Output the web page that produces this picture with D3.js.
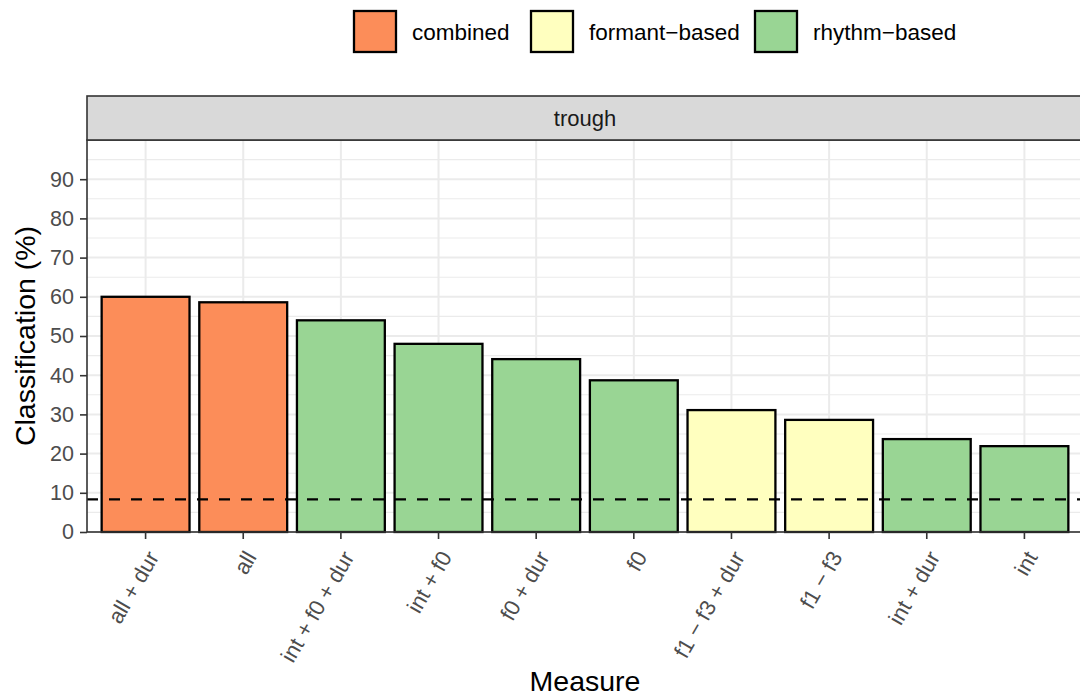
<!DOCTYPE html>
<html>
<head>
<meta charset="utf-8">
<script src="https://cdn.jsdelivr.net/npm/d3@7"></script>
<style>
  html, body { margin: 0; padding: 0; background: #fff; }
  svg { display: block; font-family: "Liberation Sans", Arial, sans-serif; }
</style>
</head>
<body>
<svg id="chart" width="1080" height="697"></svg>
<script>
// Classification accuracy per measure, trough position
const measures = ["all + dur", "all", "int + f0 + dur", "int + f0", "f0 + dur", "f0",
                  "f1 \u2212 f3 + dur", "f1 \u2212 f3", "int + dur", "int"];
const accuracy = [60.0, 58.6, 54.0, 48.0, 44.1, 38.7, 31.1, 28.6, 23.7, 21.9];
const measureType = ["combined", "combined", "rhythm", "rhythm", "rhythm", "rhythm",
                     "formant", "formant", "rhythm", "rhythm"];
const typeKeys = ["combined", "formant", "rhythm"];
const typeLabels = ["combined", "formant\u2212based", "rhythm\u2212based"];
const typeColors = ["#FC8D59", "#FFFFBF", "#99D594"];
const chanceLevel = 8.33;
const yTicks = [0, 10, 20, 30, 40, 50, 60, 70, 80, 90];
const yMinor = [5, 15, 25, 35, 45, 55, 65, 75, 85, 95];
const facetLabel = "trough";

const svg = d3.select("#chart");
const panel = { left: 87, right: 1083, top: 140, bottom: 532 };
const strip = { top: 96, bottom: 140 };

const x = d3.scaleBand()
  .domain(measures)
  .range([panel.left, panel.right])
  .paddingInner(0.1)
  .paddingOuter(0.15);

const y = d3.scaleLinear().domain([0, 100]).range([panel.bottom, panel.top]);

const color = d3.scaleOrdinal().domain(typeKeys).range(typeColors);

// panel background
svg.append("rect")
  .attr("x", panel.left).attr("y", panel.top)
  .attr("width", panel.right - panel.left).attr("height", panel.bottom - panel.top)
  .attr("fill", "#fff");

// grid lines
const grid = svg.append("g");
grid.selectAll(".minor").data(yMinor).join("line")
  .attr("x1", panel.left).attr("x2", panel.right)
  .attr("y1", d => y(d)).attr("y2", d => y(d))
  .attr("stroke", "#EBEBEB").attr("stroke-width", 1.1);
grid.selectAll(".majorY").data(yTicks).join("line")
  .attr("x1", panel.left).attr("x2", panel.right)
  .attr("y1", d => y(d)).attr("y2", d => y(d))
  .attr("stroke", "#EBEBEB").attr("stroke-width", 2);
grid.selectAll(".majorX").data(measures).join("line")
  .attr("x1", d => x(d) + x.bandwidth() / 2).attr("x2", d => x(d) + x.bandwidth() / 2)
  .attr("y1", panel.top).attr("y2", panel.bottom)
  .attr("stroke", "#EBEBEB").attr("stroke-width", 2);

// bars
svg.append("g").selectAll("rect").data(measures).join("rect")
  .attr("x", d => x(d))
  .attr("width", x.bandwidth())
  .attr("y", (d, i) => y(accuracy[i]))
  .attr("height", (d, i) => y(0) - y(accuracy[i]))
  .attr("fill", (d, i) => color(measureType[i]))
  .attr("stroke", "#000")
  .attr("stroke-width", 2.3);

// chance level
svg.append("line")
  .attr("x1", panel.left).attr("x2", panel.right)
  .attr("y1", y(chanceLevel)).attr("y2", y(chanceLevel))
  .attr("stroke", "#000").attr("stroke-width", 2.3)
  .attr("stroke-dasharray", "11,11");

// panel border
svg.append("rect")
  .attr("x", panel.left).attr("y", panel.top)
  .attr("width", panel.right - panel.left).attr("height", panel.bottom - panel.top)
  .attr("fill", "none").attr("stroke", "#333333").attr("stroke-width", 1.6);

// facet strip
svg.append("rect")
  .attr("x", panel.left).attr("y", strip.top)
  .attr("width", panel.right - panel.left).attr("height", strip.bottom - strip.top)
  .attr("fill", "#D9D9D9").attr("stroke", "#333333").attr("stroke-width", 1.6);
svg.append("text")
  .attr("x", (panel.left + panel.right) / 2).attr("y", (strip.top + strip.bottom) / 2 + 7.5)
  .attr("text-anchor", "middle").attr("font-size", 22).attr("fill", "#1A1A1A")
  .text(facetLabel);

// y axis
const yAxis = svg.append("g")
  .attr("transform", `translate(${panel.left},0)`)
  .call(d3.axisLeft(y).tickValues(yTicks).tickSize(7).tickPadding(6));
yAxis.select(".domain").remove();
yAxis.selectAll("line").attr("stroke", "#333333").attr("stroke-width", 1.6);
yAxis.selectAll("text").attr("font-size", 21.5).attr("fill", "#4D4D4D")
  .attr("font-family", "Liberation Sans, Arial, sans-serif");

// x axis
const xAxis = svg.append("g")
  .attr("transform", `translate(0,${panel.bottom})`)
  .call(d3.axisBottom(x).tickSize(7).tickPadding(0));
xAxis.select(".domain").remove();
xAxis.selectAll("line").attr("stroke", "#333333").attr("stroke-width", 1.6);
xAxis.selectAll("text")
  .attr("font-size", 22).attr("fill", "#4D4D4D")
  .attr("font-family", "Liberation Sans, Arial, sans-serif")
  .attr("text-anchor", "end")
  .attr("dy", null)
  .attr("y", null)
  .attr("transform", "translate(14,25) rotate(-60)");

// axis titles
svg.append("text")
  .attr("transform", `translate(35,${(panel.top + panel.bottom) / 2}) rotate(-90)`)
  .attr("text-anchor", "middle").attr("font-size", 28.5).attr("fill", "#000")
  .text("Classification (%)");
svg.append("text")
  .attr("x", (panel.left + panel.right) / 2).attr("y", 691)
  .attr("text-anchor", "middle").attr("font-size", 28.5).attr("fill", "#000")
  .text("Measure");

// legend
const keyX = [354, 531, 755];
const legend = svg.append("g");
typeKeys.forEach((k, i) => {
  legend.append("rect")
    .attr("x", keyX[i]).attr("y", 11)
    .attr("width", 42).attr("height", 41)
    .attr("fill", color(k)).attr("stroke", "#000").attr("stroke-width", 2.3);
  legend.append("text")
    .attr("x", keyX[i] + 58).attr("y", 40)
    .attr("font-size", 22.5).attr("fill", "#000")
    .text(typeLabels[i]);
});
</script>
</body>
</html>
